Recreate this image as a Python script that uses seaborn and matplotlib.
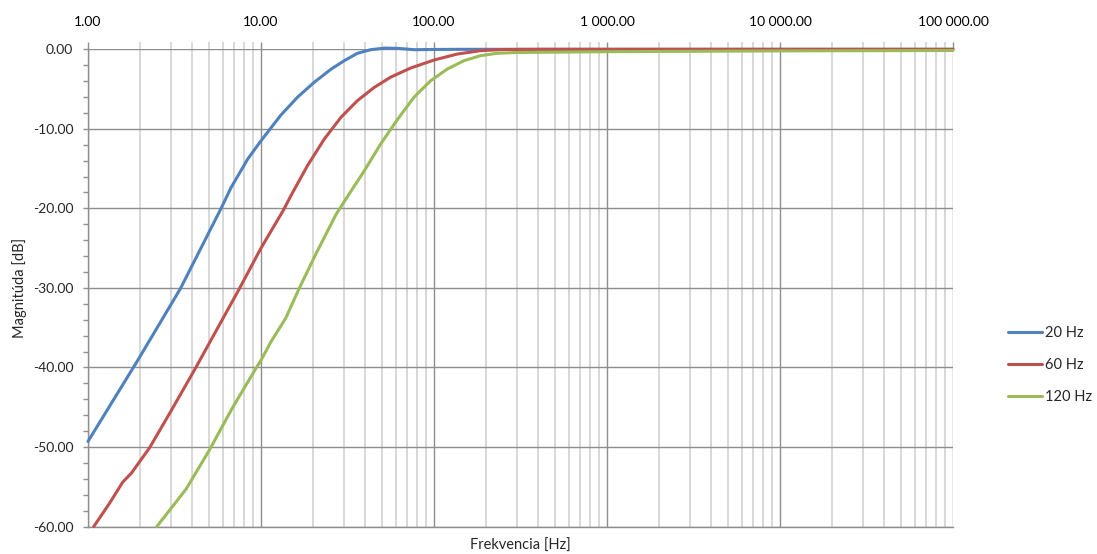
import matplotlib
matplotlib.use("Agg")
import matplotlib.pyplot as plt
import matplotlib.ticker as mticker
import numpy as np
import pandas as pd
import seaborn as sns

# values (frequency in Hz, magnitude in dB)
freq_20 = [1.0, 1.94, 3.42, 5.88, 6.71, 8.38, 10.0, 13.0, 16.3, 20.3, 25.4, 30.3, 36.1, 43.1,
           51.5, 61.6, 76.8, 100.0, 150.0, 1000.0, 100000.0]
mag_20 = [-49.3, -39.1, -30.1, -20.0, -17.4, -13.8, -11.5, -8.3, -6.0, -4.15, -2.5, -1.43, -0.5, -0.05,
          0.15, 0.12, -0.05, -0.02, 0.0, 0.0, 0.0]

freq_60 = [1.08, 1.33, 1.59, 1.78, 2.27, 2.96, 4.18, 7.5, 10.0, 13.5, 14.9, 18.6, 23.2, 29.0,
           36.1, 45.1, 56.2, 73.4, 100.0, 136.0, 186.0, 250.0, 400.0, 100000.0]
mag_60 = [-60.0, -57.1, -54.4, -53.3, -50.1, -45.8, -40.1, -30.1, -25.0, -20.2, -18.4, -14.6, -11.3, -8.55,
          -6.45, -4.8, -3.5, -2.35, -1.35, -0.6, -0.17, -0.03, 0.0, 0.0]

freq_120 = [2.5, 3.69, 5.03, 6.87, 9.36, 10.0, 11.4, 13.9, 16.6, 20.8, 27.1, 32.3, 39.5, 49.2,
            61.6, 76.8, 95.7, 119.0, 149.0, 186.0, 232.0, 300.0, 1000.0, 10000.0, 100000.0]
mag_120 = [-60.0, -55.3, -50.4, -45.0, -40.1, -39.1, -36.8, -33.8, -30.1, -25.7, -20.8, -18.2, -15.3, -11.9,
           -8.8, -6.0, -3.95, -2.5, -1.43, -0.8, -0.5, -0.4, -0.3, -0.2, -0.15]

series_names = ["20 Hz", "60 Hz", "120 Hz"]
series_colors = ["#4F81BD", "#C0504D", "#9BBB59"]

x_label = "Frekvencia [Hz]"
y_label = "Magnitúda [dB]"


def build_frame() -> pd.DataFrame:
    parts = []
    for name, f, m in zip(series_names, [freq_20, freq_60, freq_120], [mag_20, mag_60, mag_120]):
        parts.append(pd.DataFrame({"freq": f, "mag": m, "series": name}))
    return pd.concat(parts, ignore_index=True)


def main() -> None:
    sns.set_style("white")
    plt.rcParams["font.family"] = ["Lato", "DejaVu Sans"]
    plt.rcParams["font.size"] = 10

    major_grid = "#8e8e8e"
    minor_grid = "#d6d6d6"

    df = build_frame()
    fig, ax = plt.subplots(figsize=(10.97, 5.54), dpi=100)
    fig.subplots_adjust(left=0.0802, right=0.8687, bottom=0.0496, top=0.911)

    sns.lineplot(data=df, x="freq", y="mag", hue="series", hue_order=series_names,
                 palette=series_colors, linewidth=2.2, ax=ax, estimator=None, sort=True)

    ax.set_xscale("log")
    ax.set_xlim(1, 100000)
    ax.set_ylim(-60, 0)

    for line in ax.lines:
        line.set_clip_on(False)
        line.set_solid_capstyle("round")
        line.set_solid_joinstyle("round")
        line.set_zorder(3)

    # x axis: labels on top
    ax.xaxis.tick_top()
    ax.xaxis.set_label_position("bottom")
    ax.xaxis.set_major_locator(mticker.LogLocator(base=10, numticks=10))
    ax.xaxis.set_minor_locator(mticker.LogLocator(base=10, subs=np.arange(2, 10), numticks=100))
    ax.xaxis.set_major_formatter(mticker.FuncFormatter(lambda v, _: f"{v:,.2f}".replace(",", " ")))
    ax.xaxis.set_minor_formatter(mticker.NullFormatter())

    ax.yaxis.set_major_locator(mticker.MultipleLocator(10))
    ax.yaxis.set_minor_locator(mticker.MultipleLocator(2))
    ax.yaxis.set_major_formatter(mticker.FuncFormatter(lambda v, _: f"{v:.2f}" if abs(v) > 1e-9 else "0.00"))

    ax.tick_params(axis="x", which="major", direction="out", length=5, width=1, color=major_grid,
                   pad=10, labelsize=10, labelcolor="#000000")
    ax.tick_params(axis="x", which="minor", direction="out", length=5, width=1.3, color=minor_grid)
    ax.tick_params(axis="y", which="both", direction="out", length=3.6, width=1, color=major_grid,
                   pad=7, labelsize=10, left=True)

    ax.grid(True, which="major", axis="both", color=major_grid, linewidth=1.0)
    ax.grid(True, which="minor", axis="x", color=minor_grid, linewidth=1.3)
    ax.set_axisbelow(True)

    for side in ["top", "right"]:
        ax.spines[side].set_visible(False)
    for side in ["left", "bottom"]:
        ax.spines[side].set_color(major_grid)
        ax.spines[side].set_linewidth(1.0)

    ax.set_xlabel(x_label, fontsize=10.5, labelpad=9)
    ax.set_ylabel(y_label, fontsize=10.5, labelpad=4)

    handles, labels = ax.get_legend_handles_labels()
    leg = ax.legend(handles, labels, loc="center left", bbox_to_anchor=(0.919, 0.341),
                    bbox_transform=fig.transFigure, frameon=False, fontsize=10.5,
                    handlelength=2.3, handletextpad=0.2, labelspacing=1.25, borderpad=0, borderaxespad=0)
    for h in leg.get_lines():
        h.set_linewidth(2.2)

    fig.savefig("out.png", dpi=100)
    plt.close(fig)


if __name__ == "__main__":
    main()
